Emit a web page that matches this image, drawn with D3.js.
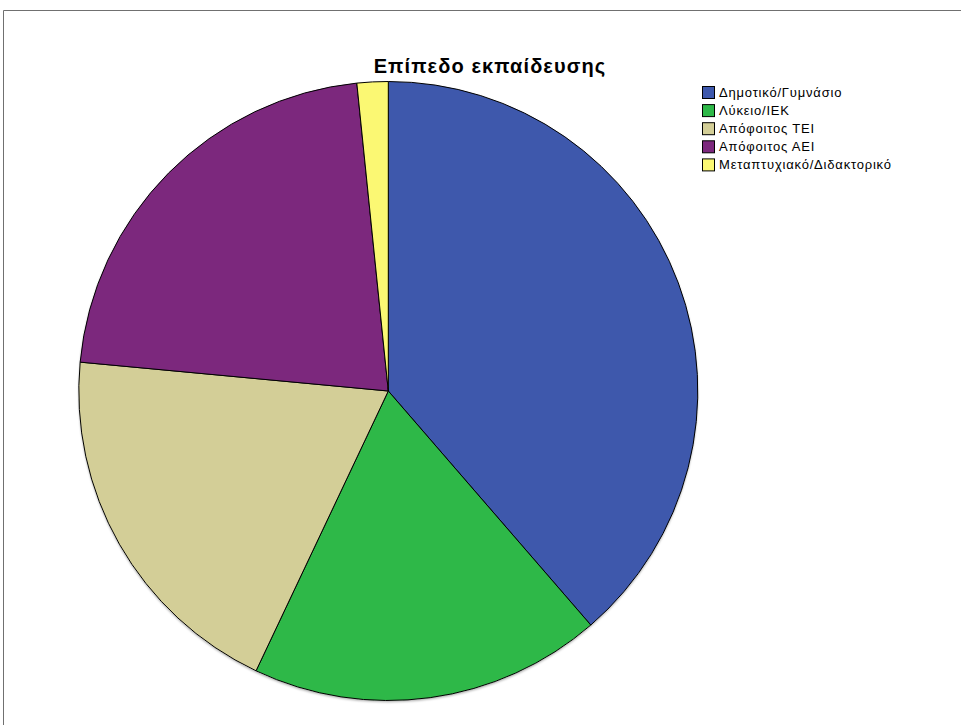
<!DOCTYPE html>
<html>
<head>
<meta charset="utf-8">
<script src="https://cdn.jsdelivr.net/npm/d3@7/dist/d3.min.js"></script>
<style>
  html, body { margin: 0; padding: 0; background: #fff; }
  svg { display: block; }
</style>
</head>
<body>
<svg id="chart" width="961" height="725"></svg>
<script>
// Education level of respondents (counts)
const categories = ["Δημοτικό/Γυμνάσιο", "Λύκειο/ΙΕΚ", "Απόφοιτος ΤΕΙ", "Απόφοιτος ΑΕΙ", "Μεταπτυχιακό/Διδακτορικό"];
const counts = [143, 68, 72, 81, 6];
const colors = ["#3E58AC", "#2EB848", "#D3CE97", "#7C287D", "#FBF873"];
const title = "Επίπεδο εκπαίδευσης";

const svg = d3.select("#chart");
const W = 961, H = 725;

// Outer frame (top and left edges visible)
svg.append("line").attr("x1", 3.5).attr("y1", 10.5).attr("x2", W).attr("y2", 10.5)
  .attr("stroke", "#707070").attr("stroke-width", 1);
svg.append("line").attr("x1", 3.5).attr("y1", 10.5).attr("x2", 3.5).attr("y2", H)
  .attr("stroke", "#707070").attr("stroke-width", 1);

// Title
svg.append("text")
  .attr("x", 490).attr("y", 73)
  .attr("text-anchor", "middle")
  .attr("font-family", "'Liberation Sans', Arial, sans-serif")
  .attr("font-weight", "bold")
  .attr("font-size", 20)
  .attr("letter-spacing", 1.1)
  .attr("fill", "#000")
  .text(title);

// Pie
const cx = 388.3, cy = 391, r = 309.5;
const data = categories.map((c, i) => ({ cat: c, value: counts[i], color: colors[i] }));
const pie = d3.pie().value(d => d.value).sort(null);
const arc = d3.arc().innerRadius(0).outerRadius(r);

const defs = svg.append("defs");
const shadow = defs.append("filter").attr("id", "shadow")
  .attr("x", "-10%").attr("y", "-10%").attr("width", "120%").attr("height", "120%");
shadow.append("feDropShadow").attr("dx", 0).attr("dy", 1.5).attr("stdDeviation", 1)
  .attr("flood-color", "#000").attr("flood-opacity", 0.35);

const g = svg.append("g").attr("transform", `translate(${cx},${cy})`);
g.append("circle").attr("r", r).attr("fill", "#fff").attr("filter", "url(#shadow)");
g.selectAll("path.slice")
  .data(pie(data))
  .join("path")
  .attr("class", "slice")
  .attr("d", arc)
  .attr("fill", d => d.data.color)
  .attr("stroke", "#000")
  .attr("stroke-width", 1)
  .attr("stroke-linejoin", "round");

// Legend
const legend = svg.append("g").attr("transform", "translate(702,86)");
const rowH = 18.1;
const item = legend.selectAll("g.item").data(data).join("g")
  .attr("class", "item")
  .attr("transform", (d, i) => `translate(0,${i * rowH})`);
item.append("rect")
  .attr("x", 0.5).attr("y", 0.5).attr("width", 12).attr("height", 12)
  .attr("fill", d => d.color).attr("stroke", "#000").attr("stroke-width", 1);
item.append("text")
  .attr("x", 17).attr("y", 11)
  .attr("font-family", "'Liberation Sans', Arial, sans-serif")
  .attr("font-size", 13)
  .attr("letter-spacing", 0.8)
  .attr("fill", "#000")
  .text(d => d.cat);
</script>
</body>
</html>
